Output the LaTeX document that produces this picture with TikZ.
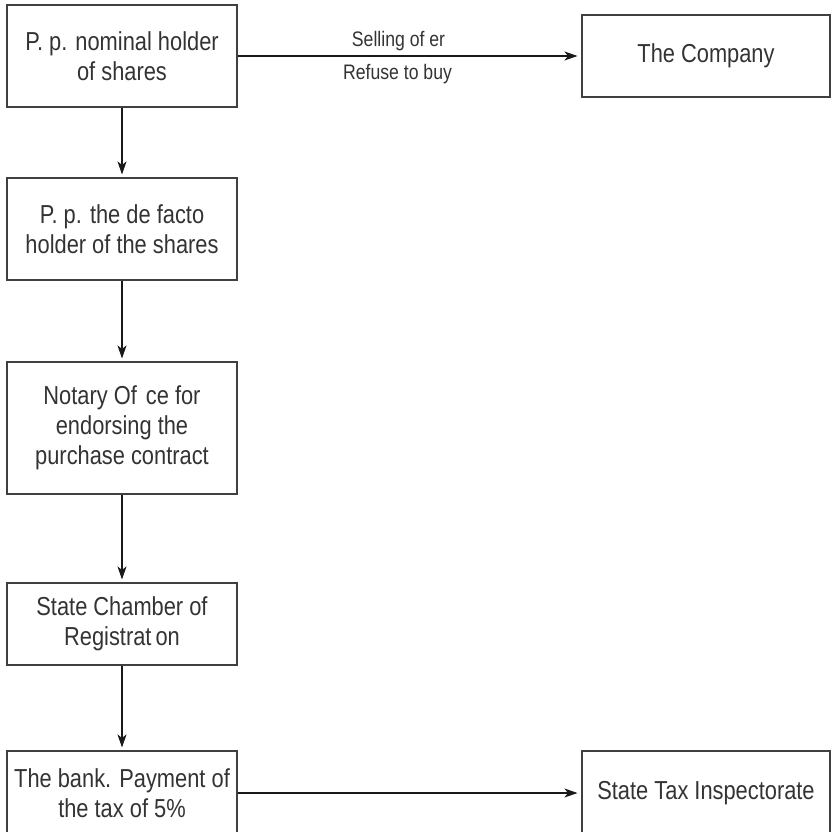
\documentclass[tikz,border=0pt]{standalone}
\usepackage{fontspec}
\setmainfont{Liberation Sans}[FakeStretch=0.84]
\usetikzlibrary{arrows.meta}
\begin{document}
\begin{tikzpicture}[x=1pt,y=-1pt,
  box/.style={draw=black!75, line width=1.1pt, rectangle, inner sep=0pt,
    align=center, text=black!80,
    font=\fontsize{26}{30}\selectfont, minimum width=230pt},
  rbox/.style={box, minimum width=248pt},
  arr/.style={draw=black!90, line width=1.1pt,
    -{Stealth[length=13pt,width=9pt,inset=3.5pt]}},
  lbl/.style={font=\fontsize{21}{24}\selectfont, text=black!80, inner sep=0pt}]
\useasboundingbox (0,0) rectangle (831,832);
\node[box, minimum height=102pt] (b1) at (122,56) {P. p. nominal holder\\of shares};
\node[rbox, minimum height=82pt] (co) at (706,56) {The Company};
\node[box, minimum height=102pt] (b2) at (122,229) {P. p. the de facto\\holder of the shares};
\node[box, minimum height=132pt] (b3) at (122,428) {Notary Of\hspace{9pt}ce for\\endorsing the\\purchase contract};
\node[box, minimum height=82pt] (b4) at (122,624) {State Chamber of\\Registrat\hspace{4pt}on};
\node[box, minimum height=84pt] (b5) at (122,793) {The bank. Payment of\\the tax of 5\%};
\node[rbox, minimum height=84pt] (tx) at (706,793) {State Tax Inspectorate};
\draw[arr, shorten >=4pt] (b1) -- node[lbl, midway, xshift=-11pt, yshift=15pt]{Selling of er} node[lbl, midway, xshift=-12pt, yshift=-18pt]{Refuse to buy} (co);
\draw[arr, shorten >=3pt] (b1) -- (b2);
\draw[arr, shorten >=3pt] (b2) -- (b3);
\draw[arr, shorten >=3pt] (b3) -- (b4);
\draw[arr, shorten >=3pt] (b4) -- (b5);
\draw[arr, shorten >=4pt] (b5) -- (tx);
\end{tikzpicture}
\end{document}
